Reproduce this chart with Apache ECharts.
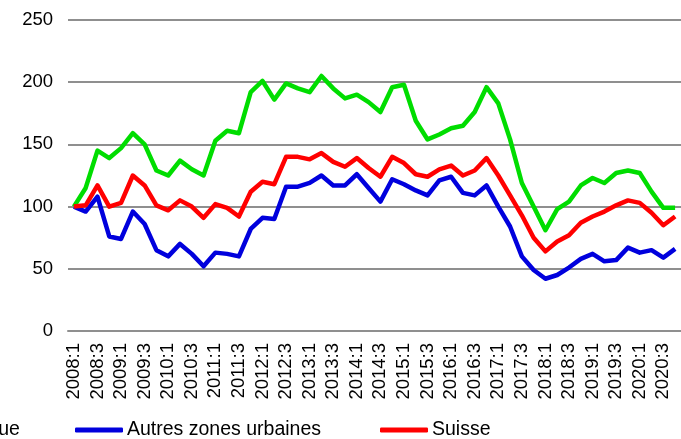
<!DOCTYPE html>
<html>
<head>
<meta charset="utf-8">
<script src="https://cdn.jsdelivr.net/npm/echarts@6/dist/echarts.min.js"></script>
<style>
  html, body { margin: 0; padding: 0; background: #fff; }
  #chart { width: 681px; height: 439px; }
</style>
</head>
<body>
<div id="chart"></div>
<script>
// Quarters 2008:1 .. 2020:4
const years = [2008, 2009, 2010, 2011, 2012, 2013, 2014, 2015, 2016, 2017, 2018, 2019, 2020];
const quarters = years.flatMap(y => [1, 2, 3, 4].map(q => y + ':' + q));

// Index values (2008:1 = 100)
const zoneTouristique = [100,115,145,139,147,159,150,129,125,137,130,125,153,161,159,192,201,186,199,195,
                         192,205,195,187,190,184,176,196,198,169,154,158,163,165,176,196,183,154,119,100,
                         81,98,104,117,123,119,127,129,127,112,99,99];
const autresZones = [100,96,108,76,74,96,86,65,60,70,62,52,63,62,60,82,91,90,116,116,
                     119,125,117,117,126,115,104,122,118,113,109,121,124,111,109,117,100,84,60,49,
                     42,45,51,58,62,56,57,67,63,65,59,66];
const suisse = [100,101,117,100,103,125,117,101,97,105,100,91,102,99,92,112,120,118,140,140,
                138,143,136,132,139,131,124,140,135,126,124,130,133,125,129,139,125,109,93,75,
                64,72,77,87,92,96,101,105,103,95,85,92];

const seriesNames = ['Zone touristique', 'Autres zones urbaines', 'Suisse'];
const seriesColors = ['#00DD00', '#0000DD', '#FF0000'];
const yTicks = { min: 0, max: 250, step: 50 };

const FONT = '"Liberation Sans", Arial, sans-serif';
const GRID_COLOR = '#8f8f8f';

function legendAt(name, left) {
  return {
    data: [{ name: name, icon: 'roundRect' }],
    left: left,
    top: 420,
    itemWidth: 48,
    itemHeight: 5,
    itemGap: 4,
    padding: 0,
    textStyle: { fontFamily: FONT, fontSize: 19.5, color: '#000', padding: [0, 0, 0, -1] }
  };
}

const chart = echarts.init(document.getElementById('chart'), null, { renderer: 'canvas' });
chart.setOption({
  animation: false,
  backgroundColor: '#fff',
  grid: { left: 68, top: 20, width: 616, height: 311 },
  legend: [
    legendAt(seriesNames[0], -172),
    legendAt(seriesNames[1], 75),
    legendAt(seriesNames[2], 380)
  ],
  xAxis: {
    type: 'category',
    data: quarters,
    boundaryGap: true,
    axisLine: { show: true, lineStyle: { color: GRID_COLOR, width: 2 } },
    axisTick: { show: false },
    axisLabel: {
      interval: 1,
      rotate: 90,
      margin: 12,
      fontFamily: FONT,
      fontSize: 18.5,
      color: '#000'
    },
    splitLine: { show: false }
  },
  yAxis: {
    type: 'value',
    min: yTicks.min,
    max: yTicks.max,
    interval: yTicks.step,
    axisLine: { show: false },
    axisTick: { show: false },
    axisLabel: { margin: 15, fontFamily: FONT, fontSize: 18.5, color: '#000' },
    splitLine: { show: true, lineStyle: { color: GRID_COLOR, width: 2 } }
  },
  series: [zoneTouristique, autresZones, suisse].map((data, i) => ({
    name: seriesNames[i],
    type: 'line',
    data: data,
    symbol: 'none',
    lineStyle: { color: seriesColors[i], width: 4.5, join: 'round' },
    itemStyle: { color: seriesColors[i] }
  }))
});
</script>
</body>
</html>
